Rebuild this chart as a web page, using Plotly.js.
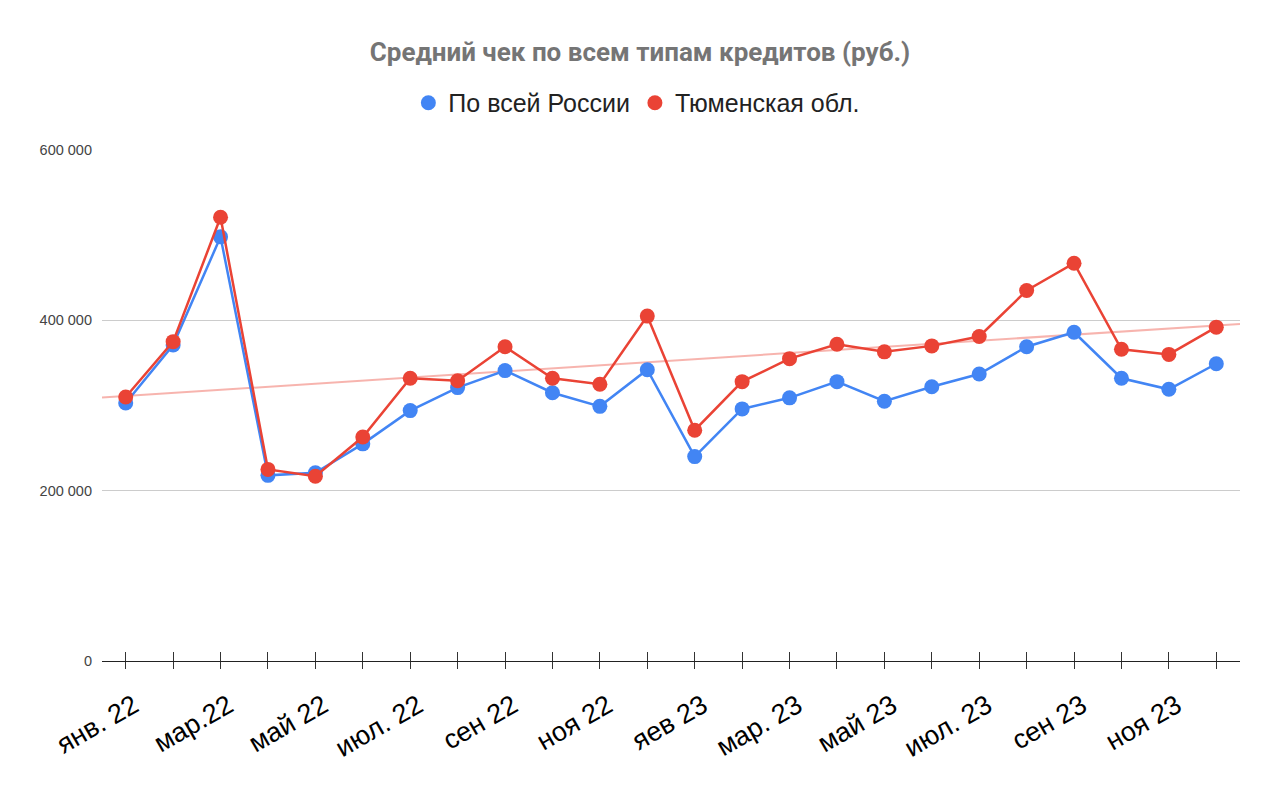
<!DOCTYPE html>
<html><head><meta charset="utf-8">
<script src="https://cdn.plot.ly/plotly-3.0.1.min.js"></script>
<style>html,body{margin:0;padding:0;background:#fff}#chart{width:1280px;height:791px}</style>
</head><body><div id="chart"></div>
<script>
const months = ["янв. 22","фев. 22","мар.22","апр. 22","май 22","июн. 22","июл. 22","авг. 22","сен 22","окт. 22","ноя 22","дек. 22",
  "яев 23","фев. 23","мар. 23","апр. 23","май 23","июн. 23","июл. 23","авг. 23","сен 23","окт. 23","ноя 23","дек. 23"];
const tickLabels = ["янв. 22","","мар.22","","май 22","","июл. 22","","сен 22","","ноя 22","",
  "яев 23","","мар. 23","","май 23","","июл. 23","","сен 23","","ноя 23",""];
const russia = [303000,371000,498000,218000,221000,255000,294000,321000,341000,315000,299000,342000,
  240000,296000,309000,328000,305000,322000,337000,369000,386000,332000,319000,349000];
const tyumen = [310000,375000,521000,225000,217000,263000,332000,329000,369000,332000,325000,405000,
  271000,328000,355000,372000,363000,370000,381000,435000,467000,366000,360000,392000];
const seriesNames = ["По всей России","Тюменская обл."];
const chartTitle = "Средний чек по всем типам кредитов (руб.)";

const idx = months.map((_, i) => i);
// linear trendline (least squares) of the Tyumen series
const n = tyumen.length;
const mx = idx.reduce((a,b)=>a+b,0)/n, my = tyumen.reduce((a,b)=>a+b,0)/n;
let sxy=0, sxx=0;
for (let i=0;i<n;i++){ sxy += (idx[i]-mx)*(tyumen[i]-my); sxx += (idx[i]-mx)**2; }
const slope = sxy/sxx, intercept = my - slope*mx;
const trendX = [-0.5, n-0.5];
const trendY = trendX.map(x => intercept + slope*x);

const BLUE = "#4285F4", RED = "#EA4335";
const traces = [
  {x: trendX, y: trendY, mode: "lines", line: {color: "rgba(234,67,53,0.4)", width: 2}, showlegend: false, hoverinfo: "skip"},
  {x: idx, y: russia, name: seriesNames[0], mode: "lines+markers", line: {color: BLUE, width: 2.5}, marker: {color: BLUE, size: 15}, showlegend: false},
  {x: idx, y: tyumen, name: seriesNames[1], mode: "lines+markers", line: {color: RED, width: 2.5}, marker: {color: RED, size: 15}, showlegend: false},
  {x: [null], y: [null], name: seriesNames[0], mode: "markers", marker: {color: BLUE, size: 15}},
  {x: [null], y: [null], name: seriesNames[1], mode: "markers", marker: {color: RED, size: 15}},
  {x: idx, y: idx.map(()=>null), xaxis: "x2", mode: "markers", showlegend: false, hoverinfo: "skip"}
];

const layout = {
  width: 1280, height: 791,
  margin: {l: 102, r: 40, t: 150, b: 130},
  paper_bgcolor: "#fff", plot_bgcolor: "#fff",
  separators: ", ",
  title: {text: "<b>" + chartTitle + "</b>", x: 0.5, xanchor: "center", y: 0.934, yanchor: "middle",
    font: {family: "Roboto, Arial, sans-serif", size: 26, color: "#757575"}},
  showlegend: true,
  legend: {orientation: "h", x: 0.47, xanchor: "center", y: 1.092, yanchor: "middle",
    font: {family: "Liberation Sans, Arial, sans-serif", size: 25, color: "#222"}, itemwidth: 30},
  xaxis: {range: [-0.5, n-0.5], tickmode: "array", tickvals: idx, ticktext: tickLabels, tickangle: -30,
    tickfont: {family: "Liberation Sans, Arial, sans-serif", size: 27, color: "#000"},
    ticklabelshift: 8, ticklabelstandoff: 10,
    showgrid: false, zeroline: false, showline: true, linecolor: "#222", linewidth: 1.3,
    ticks: "outside", ticklen: 7, tickcolor: "#333", tickwidth: 1},
  xaxis2: {overlaying: "x", matches: "x", range: [-0.5, n-0.5], tickmode: "array", tickvals: idx, showticklabels: false,
    showgrid: false, zeroline: false, showline: false, ticks: "inside", ticklen: 9, tickcolor: "#333", tickwidth: 1, anchor: "y", side: "bottom"},
  yaxis: {range: [0, 600000], dtick: 200000, tickformat: ",d", showgrid: true, gridcolor: "#cccccc", gridwidth: 1,
    zeroline: false, showline: false, ticks: "", ticklabelstandoff: 9,
    tickfont: {family: "Liberation Sans, Arial, sans-serif", size: 14.5, color: "#444"}}
};
Plotly.newPlot("chart", traces, layout, {displayModeBar: false, staticPlot: true});
</script></body></html>
